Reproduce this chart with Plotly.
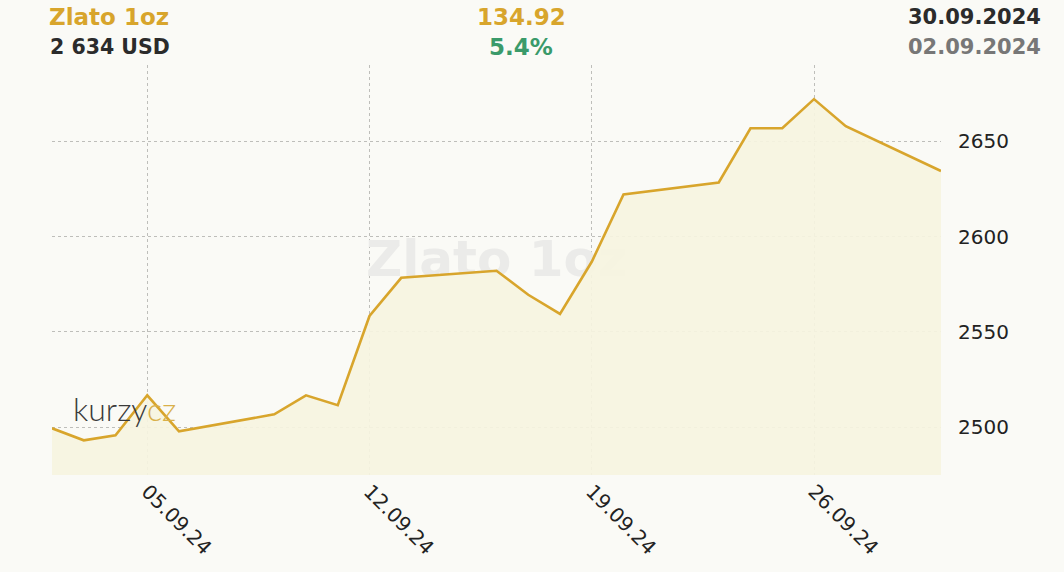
import plotly.graph_objects as go

dates = ["2024-09-02", "2024-09-03", "2024-09-04", "2024-09-05", "2024-09-06",
         "2024-09-09", "2024-09-10", "2024-09-11", "2024-09-12", "2024-09-13",
         "2024-09-16", "2024-09-17", "2024-09-18", "2024-09-19", "2024-09-20",
         "2024-09-23", "2024-09-24", "2024-09-25", "2024-09-26", "2024-09-27",
         "2024-09-30"]
prices = [2499.5, 2493.2, 2495.8, 2516.8, 2497.9,
          2506.8, 2516.8, 2511.6, 2558.4, 2578.4,
          2582.1, 2569.5, 2559.5, 2586.8, 2622.1,
          2628.4, 2656.8, 2656.8, 2672.1, 2657.9,
          2634.4]
tick_dates = ["2024-09-05", "2024-09-12", "2024-09-19", "2024-09-26"]
tick_text = ["05.09.24", "12.09.24", "19.09.24", "26.09.24"]
y_ticks = [2500, 2550, 2600, 2650]

title = "Zlato 1oz"
last_price = "2 634 USD"
abs_change = "134.92"
pct_change = "5.4%"
date_end = "30.09.2024"
date_start = "02.09.2024"

W, H = 1064, 572
L, R, T, B = 52, 123, 65, 97
PW = W - L - R
PH = H - T - B

GOLD = "#d8a52c"
BG = "#fafaf6"
GRID = "#bebeba"

def px(x):
    return (x - L) / PW

def py(y):
    return 1 - (y - T) / PH

fig = go.Figure()

# watermark
fig.add_trace(go.Scatter(
    x=["2024-09-16"], y=[2586], mode="text", text=["<b>" + title + "</b>"],
    textfont=dict(size=50, color="#ebebe9", family="DejaVu Sans"),
    hoverinfo="skip", showlegend=False))

fig.add_trace(go.Scatter(
    x=dates, y=prices, mode="lines", fill="tozeroy",
    fillcolor="rgba(246,244,224,0.92)",
    line=dict(color=GOLD, width=2.6),
    hoverinfo="skip", showlegend=False))

fig.update_layout(
    width=W, height=H,
    margin=dict(l=L, r=R, t=T, b=B),
    paper_bgcolor=BG, plot_bgcolor=BG,
    font=dict(family="DejaVu Sans", color="#222"),
    xaxis=dict(
        type="date", range=["2024-09-02", "2024-09-30"],
        tickvals=tick_dates, ticktext=tick_text, tickangle=45,
        tickfont=dict(size=20, color="#222"),
        showgrid=True, gridcolor=GRID, griddash="3px,3px", gridwidth=1,
        zeroline=False, showline=False, ticks="",
    ),
    yaxis=dict(
        side="right", range=[2475, 2690], tickvals=y_ticks,
        tickfont=dict(size=20, color="#222"),
        showgrid=True, gridcolor=GRID, griddash="3px,3px", gridwidth=1,
        zeroline=False, showline=False, ticks="outside", ticklen=12,
        tickcolor="rgba(0,0,0,0)",
    ),
)

def ann(text, x, y, size, color, xanchor="left"):
    fig.add_annotation(text=text, xref="paper", yref="paper",
                       x=px(x), y=py(y), xanchor=xanchor, yanchor="middle",
                       showarrow=False,
                       font=dict(size=size, color=color, family="DejaVu Sans"))

ann("<b>" + title + "</b>", 47, 17, 23, GOLD)
ann("<b>" + last_price + "</b>", 48, 47, 20.5, "#2b2b2b")
ann("<b>" + abs_change + "</b>", 521, 17, 23, GOLD, "center")
ann("<b>" + pct_change + "</b>", 521, 47, 23, "#3a9a6a", "center")
ann("<b>" + date_end + "</b>", 1043, 17, 21, "#2b2b2b", "right")
ann("<b>" + date_start + "</b>", 1043, 47, 21, "#777777", "right")

fig.add_annotation(text="kurzy<span style='color:#d9b04a'>cz</span>",
                   xref="paper", yref="paper", x=px(71), y=py(408),
                   xanchor="left", yanchor="middle", showarrow=False,
                   font=dict(size=32, color="#3a3a3a", family="Lato", weight=300))

fig.write_html("out.html", config={"displayModeBar": False},
               post_script="document.body.style.margin='0';")
